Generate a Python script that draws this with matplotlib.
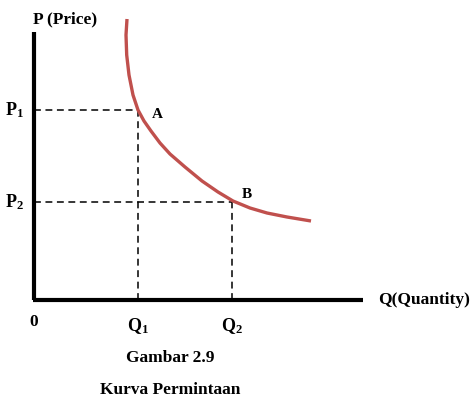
import matplotlib.pyplot as plt

plt.rcParams['font.family'] = 'Liberation Serif'
plt.rcParams['mathtext.fontset'] = 'custom'
plt.rcParams['mathtext.rm'] = 'Liberation Serif:bold'
plt.rcParams['mathtext.default'] = 'rm'

# demand curve (quantity, price)
curve_q = [93, 92, 92.7, 95, 99, 104, 110, 117, 126, 136, 151, 168, 184, 199, 216, 233, 253, 277]
curve_p = [281, 265, 245, 225, 205, 190, 179, 169, 157, 146, 133, 119, 108, 99, 92, 87, 83, 79]

# points A and B
q_points = [104, 198]
p_points = [190, 98]
point_labels = ['A', 'B']
q_labels = ['Q$_1$', 'Q$_2$']
p_labels = ['P$_1$', 'P$_2$']

q_max = 329
p_max = 268

fig = plt.figure(figsize=(4.71, 4.05), dpi=100)
ax = fig.add_axes([0, 0, 1, 1])
ax.set_xlim(-34, 437)
ax.set_ylim(-105, 300)
ax.axis('off')

# axes
ax.plot([0, 0], [0, p_max], color='black', lw=3, solid_capstyle='butt')
ax.plot([-1.5, q_max], [0, 0], color='black', lw=3, solid_capstyle='butt')

# dashed guide lines
for q, p in zip(q_points, p_points):
    ax.plot([0, q], [p, p], color='black', lw=1.1, dashes=(4.5, 3))
    ax.plot([q, q], [0, p], color='black', lw=1.1, dashes=(4.5, 3))

# curve
ax.plot(curve_q, curve_p, color='#c0504d', lw=2.4, solid_capstyle='butt',
        solid_joinstyle='round')

fs = 12.5
ax.text(-1, 277, 'P (Price)', fontsize=fs, fontweight='bold', ha='left', va='baseline')
for p, lab in zip(p_points, p_labels):
    ax.text(-29, p, lab, fontsize=13, fontweight='bold', ha='left', va='center')
for q, lab in zip(q_points, q_labels):
    ax.text(q, -26, lab, fontsize=13, fontweight='bold', ha='center', va='center')
ax.text(q_points[0] + 14, p_points[0] - 4, point_labels[0], fontsize=11, fontweight='bold', ha='left', va='center')
ax.text(q_points[1] + 10, p_points[1] + 8, point_labels[1], fontsize=11, fontweight='bold', ha='left', va='center')
ax.text(0, -22, '0', fontsize=fs, fontweight='bold', ha='center', va='center')
ax.text(344, 0, 'Q(Quantity)', fontsize=fs, fontweight='bold', ha='left', va='center')
ax.text(136, -58, 'Gambar 2.9', fontsize=fs, fontweight='bold', ha='center', va='center')
ax.text(136, -90, 'Kurva Permintaan', fontsize=fs, fontweight='bold', ha='center', va='center')

fig.savefig('out.png', dpi=100)
